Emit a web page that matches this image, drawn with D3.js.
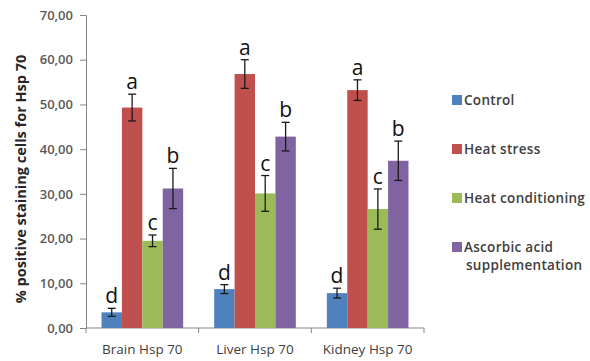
<!DOCTYPE html>
<html>
<head>
<meta charset="utf-8">
<script src="https://cdn.jsdelivr.net/npm/d3@7"></script>
<style>
  body { margin: 0; background: #fff; }
  text { font-family: "Open Sans", "Liberation Sans", sans-serif; }
</style>
</head>
<body>
<div class="chart"></div>
<script>
// data
const groups = ["Brain Hsp  70", "Liver Hsp 70", "Kidney Hsp 70"];
const seriesNames = ["Control", "Heat stress", "Heat conditioning", "Ascorbic acid supplementation"];
const control = [3.5, 8.7, 7.8];
const heatStress = [49.3, 56.8, 53.2];
const heatCond = [19.5, 30.1, 26.6];
const ascorbic = [31.2, 42.8, 37.4];
const controlErr = [0.9, 1.0, 1.1];
const heatStressErr = [3.0, 3.2, 2.3];
const heatCondErr = [1.3, 4.0, 4.5];
const ascorbicErr = [4.5, 3.2, 4.4];
const letters = ["d", "a", "c", "b"];
const yTicks = [0, 10, 20, 30, 40, 50, 60, 70];

const colors = ["#4F81BD", "#C0504D", "#9BBB59", "#8064A2"];
const values = [control, heatStress, heatCond, ascorbic];
const errs = [controlErr, heatStressErr, heatCondErr, ascorbicErr];

const table = [];
groups.forEach((g, gi) => {
    seriesNames.forEach((s, si) => {
        table.push({group: g, series: s, si: si, value: values[si][gi], err: errs[si][gi], letter: letters[si]});
    });
});

const width = 590, height = 361;
const svg = d3.select('.chart').append('svg')
            .attr('width', width)
            .attr('height', height);

// scales
const x0 = d3.scaleBand().domain(groups).range([86, 424]).padding(0);
const x1 = d3.scaleBand().domain(seriesNames).range([0, x0.bandwidth()]).paddingInner(0).paddingOuter(0.76);
const y = d3.scaleLinear().domain([0, 70]).range([328, 15]);

const axisColor = '#868686';

// y axis
const yAxis = d3.axisLeft(y).tickValues(yTicks).tickSize(6).tickPadding(7)
                .tickFormat(d => d3.format('.2f')(d).replace('.', ','));
const yg = svg.append('g').attr('transform', 'translate(86,0)').call(yAxis);
yg.select('.domain').attr('stroke', axisColor);
yg.selectAll('.tick line').attr('stroke', axisColor);
yg.selectAll('.tick text').attr('fill', '#595959').attr('font-size', 13).attr('font-weight', 600);

// x axis
const xg = svg.append('g').attr('transform', 'translate(0,328)');
xg.append('line').attr('x1', 86).attr('x2', 424).attr('stroke', axisColor);
const sepTicks = groups.map(g => x0(g)).concat([x0.range()[1]]);
xg.selectAll('.sep').data(sepTicks).enter().append('line')
    .attr('x1', d => d).attr('x2', d => d).attr('y1', 0).attr('y2', 5)
    .attr('stroke', axisColor);
xg.selectAll('.xlabel').data(groups).enter().append('text')
    .attr('x', d => x0(d) + x0.bandwidth() / 2)
    .attr('y', 26)
    .attr('text-anchor', 'middle')
    .attr('font-size', 13.5)
    .attr('font-weight', 400)
    .attr('fill', '#404040')
    .text(d => d);

// bars
const bars = svg.append('g');
bars.selectAll('rect').data(table).enter().append('rect')
    .attr('x', d => x0(d.group) + x1(d.series))
    .attr('y', d => y(d.value))
    .attr('width', x1.bandwidth())
    .attr('height', d => y(0) - y(d.value))
    .attr('fill', d => colors[d.si]);

// error bars
const eb = svg.append('g').attr('stroke', '#1a1a1a').attr('stroke-width', 1.3);
table.forEach(d => {
    const cx = x0(d.group) + x1(d.series) + x1.bandwidth() / 2;
    eb.append('line').attr('x1', cx).attr('x2', cx).attr('y1', y(d.value + d.err)).attr('y2', y(d.value - d.err));
    eb.append('line').attr('x1', cx - 4).attr('x2', cx + 4).attr('y1', y(d.value + d.err)).attr('y2', y(d.value + d.err));
    eb.append('line').attr('x1', cx - 4).attr('x2', cx + 4).attr('y1', y(d.value - d.err)).attr('y2', y(d.value - d.err));
});

// letters
svg.append('g').selectAll('text').data(table).enter().append('text')
    .attr('x', d => x0(d.group) + x1(d.series) + x1.bandwidth() / 2)
    .attr('y', d => y(d.value + d.err) - 5)
    .attr('text-anchor', 'middle')
    .attr('font-family', 'Liberation Sans, Arial, sans-serif')
    .attr('font-size', 21)
    .attr('fill', '#111')
    .text(d => d.letter);

// y title
svg.append('text')
    .attr('transform', 'translate(26,179) rotate(-90)')
    .attr('text-anchor', 'middle')
    .attr('font-size', 14.5)
    .attr('font-weight', 700)
    .attr('fill', '#262626')
    .text('% positive staining cells for Hsp 70');

// legend
const legendLines = [["Control"], ["Heat stress"], ["Heat conditioning"], ["Ascorbic acid", "supplementation"]];
const legend = svg.append('g');
legendLines.forEach((lines, i) => {
    const ly = 100 + i * 49;
    legend.append('rect').attr('x', 452).attr('y', ly - 5).attr('width', 10).attr('height', 10).attr('fill', colors[i]);
    lines.forEach((t, j) => {
        legend.append('text')
            .attr('x', j === 0 ? 464 : 466)
            .attr('y', ly + 5 + j * 18)
            .attr('font-size', 13.5)
            .attr('font-weight', 600)
            .attr('letter-spacing', 0.3)
            .attr('fill', '#404040')
            .text(t);
    });
});
</script>
</body>
</html>
